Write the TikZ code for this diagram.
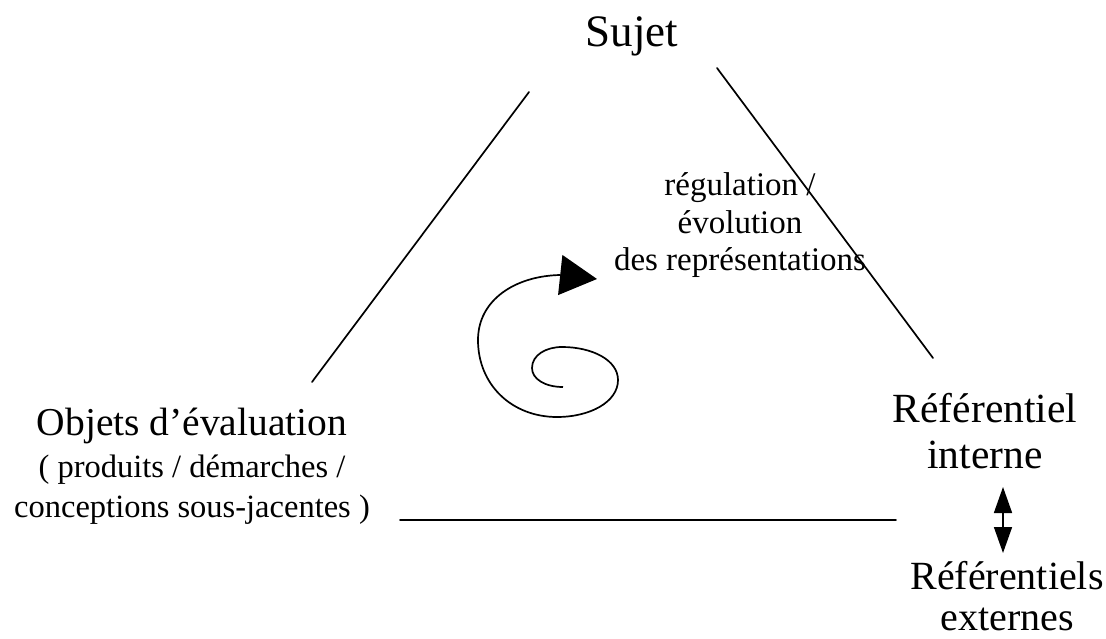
\documentclass[tikz,border=0pt]{standalone}
\usepackage{fontspec}
\setmainfont{Liberation Serif}
\usetikzlibrary{arrows.meta}
\tikzset{
  side/.style={line width=1.7pt, line cap=round},
  lbl/.style={inner sep=0pt, align=center, anchor=base},
  smalltxt/.style={font=\fontsize{33}{37}\selectfont},
}
\begin{document}
\begin{tikzpicture}[x=1pt,y=-1pt]
\useasboundingbox (0,0) rectangle (1106,639);
% labels (anchor base = baseline of the last line)
\node[lbl, font=\fontsize{45}{50}\selectfont] (sujet) at (632,47) {Sujet};
\node[lbl, font=\fontsize{32.5}{40}\selectfont] (objets) at (192,517)
  {{\fontsize{39.5}{42}\selectfont Objets d’évaluation}\\[2pt]
   ( produits / démarches /\\
   conceptions sous-jacentes )};
\node[lbl, font=\fontsize{41.5}{46}\selectfont] (refint) at (985,468) {Référentiel\\interne};
\node[lbl, font=\fontsize{40}{41}\selectfont] (refext) at (1007,630) {Référentiels\\externes};
\node[lbl, smalltxt] (regul) at (740,270) {régulation /\\évolution\\des représentations};
% triangle sides
\coordinate (l1) at (312,382); \coordinate (l2) at (529,92);
\coordinate (r1) at (717,68);  \coordinate (r2) at (933,358);
\coordinate (b1) at (400,520); \coordinate (b2) at (896,520);
\draw[side] (l1) -- (l2);
\draw[side] (r1) -- (r2);
\draw[side] (b1) -- (b2);
% double arrow between internal and external references
\coordinate (da1) at (1003,487); \coordinate (da2) at (1003,553);
\draw[line width=1.6pt, {Triangle[length=26pt,width=18pt]}-{Triangle[length=26pt,width=18pt]}] (da1) -- (da2);
% spiral
\coordinate (sp0) at (563,387);
\coordinate (tip) at (597,279);
\draw[line width=1.7pt, -{Triangle[length=37pt,width=40pt]}]
  (sp0) .. controls (545,387) and (532,379) .. (532,368)
        .. controls (532,355) and (546,347) .. (562,347)
        .. controls (592,347) and (618,360) .. (618,380)
        .. controls (618,402) and (590,417) .. (557,417)
        .. controls (512,417) and (478,385) .. (478,340)
        .. controls (478,300) and (515,276) .. (560,275)
        -- (tip);
\end{tikzpicture}
\end{document}
